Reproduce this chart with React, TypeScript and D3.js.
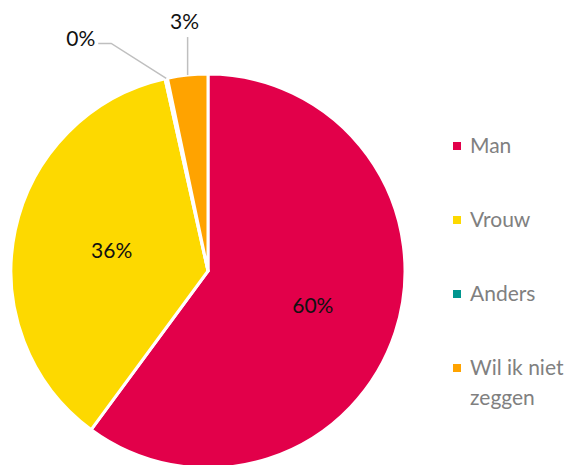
import * as d3 from "d3";
import { useRef, useEffect } from "react";

const categories = ["Man", "Vrouw", "Anders", "Wil ik niet zeggen"];
const shares = [0.601, 0.364, 0.002, 0.033];
const colors = ["#E2004A", "#FDD900", "#00968F", "#FFA300"];
const legendLines = [["Man"], ["Vrouw"], ["Anders"], ["Wil ik niet", "zeggen"]];

export default function App(): JSX.Element {
  const svgRef = useRef<SVGSVGElement>(null);

  useEffect(() => {
    if (!svgRef.current) return;
    const root = d3.select(svgRef.current);
    root.selectAll("*").remove();

    const width = 572;
    const height = 465;
    const cx = 208;
    const cy = 271;
    const radius = 197;
    const font = "Lato, 'Open Sans', sans-serif";

    root.attr("width", width).attr("height", height);

    const data = categories.map((name, i) => ({ name, value: shares[i], color: colors[i] }));
    const pie = d3.pie<any>().sort(null).value((d: any) => d.value);
    const arcs = pie(data);
    const arc = d3.arc<any>().innerRadius(0).outerRadius(radius);

    const g = root.append("g").attr("transform", `translate(${cx},${cy})`);

    g.selectAll("path")
      .data(arcs)
      .join("path")
      .attr("d", arc)
      .attr("fill", (d: any) => d.data.color)
      .attr("stroke", "#fff")
      .attr("stroke-width", 3)
      .attr("stroke-linejoin", "round");

    const pct = (v: number) => `${Math.round(v * 100)}%`;

    // inside labels for big slices (Excel-ish placement)
    arcs.forEach((a: any) => {
      if (a.data.value < 0.1) return;
      const mid = (a.startAngle + a.endAngle) / 2;
      const r = radius * (a.data.name === "Man" ? 0.56 : 0.5);
      g.append("text")
        .attr("x", Math.sin(mid) * r)
        .attr("y", -Math.cos(mid) * r)
        .attr("dy", "0.35em")
        .attr("text-anchor", "middle")
        .attr("font-family", font)
        .attr("font-size", 21)
        .attr("fill", "#111")
        .text(pct(a.data.value));
    });

    // outside labels with leader lines for small slices
    arcs.filter((a: any) => a.data.value < 0.1).forEach((a: any) => {
      const mid = (a.startAngle + a.endAngle) / 2;
      const px = Math.sin(mid) * radius;
      const py = -Math.cos(mid) * radius;
      let pts: [number, number][];
      let lx: number;
      let ly: number;
      let anchor = "middle";
      if (a.data.name === "Anders") {
        pts = [[px, py], [px - 55, py - 35], [px - 68, py - 35]];
        lx = px - 71;
        ly = py - 40;
        anchor = "end";
      } else {
        pts = [[px, py], [px, py - 38]];
        lx = px - 3;
        ly = py - 53;
      }
      g.append("path")
        .attr("d", d3.line()(pts))
        .attr("fill", "none")
        .attr("stroke", "#BFBFBF")
        .attr("stroke-width", 1.5);
      g.append("text")
        .attr("x", lx)
        .attr("y", ly)
        .attr("dy", "0.35em")
        .attr("text-anchor", anchor)
        .attr("font-family", font)
        .attr("font-size", 21)
        .attr("fill", "#111")
        .text(pct(a.data.value));
    });

    // legend
    const legendY = d3.scalePoint<string>().domain(categories).range([146, 368]);
    const legend = root.append("g");
    categories.forEach((name, i) => {
      const y = legendY(name) as number;
      legend.append("rect")
        .attr("x", 453)
        .attr("y", y - 4)
        .attr("width", 8)
        .attr("height", 8)
        .attr("fill", colors[i]);
      legendLines[i].forEach((line, j) => {
        legend.append("text")
          .attr("x", 470)
          .attr("y", y + j * 30)
          .attr("dy", "0.35em")
          .attr("font-family", font)
          .attr("font-size", 21)
          .attr("fill", "#808080")
          .text(line);
      });
    });
  }, []);

  return (
    <div style={{ position: "absolute", left: 0, top: 0 }}>
      <svg ref={svgRef} style={{ display: "block" }} />
    </div>
  );
}
